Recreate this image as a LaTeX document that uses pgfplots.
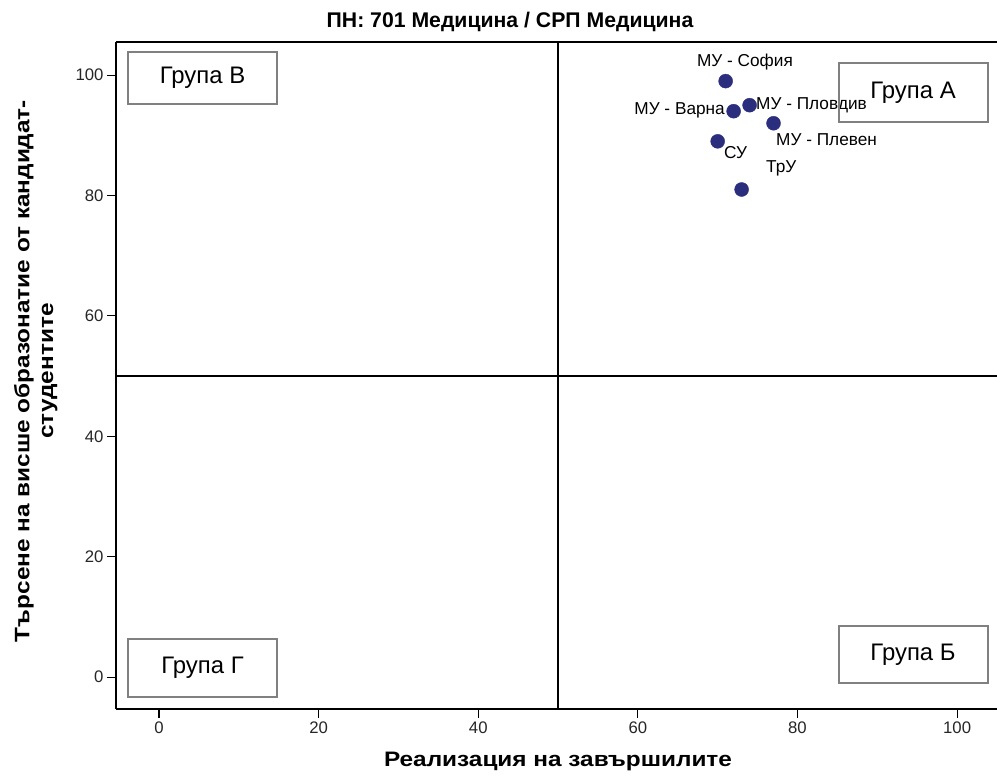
\documentclass[border=0pt]{standalone}
\usepackage{fontspec}
\setmainfont{Liberation Sans}
\usepackage{pgfplots}
\pgfplotsset{compat=1.18}
\definecolor{navy}{RGB}{43,45,125}
\definecolor{boxgray}{RGB}{128,128,128}
\begin{document}
\begin{tikzpicture}
\path[use as bounding box] (-116bp,-74bp) rectangle (881bp,709bp);
\begin{axis}[
  at={(0,0)}, anchor=south west,
  scale only axis, width=881bp, height=667bp,
  xmin=-5.39, xmax=105, ymin=-5.3, ymax=105.5,
  xtick={0,20,40,60,80,100}, ytick={0,20,40,60,80,100},
  axis y line*=left, axis x line*=box,
  xtick pos=bottom, ytick pos=left,
  tick align=outside, major tick length=9bp,
  every tick/.style={black, line width=1.1bp},
  axis line style={black, line width=1.1bp},
  /pgf/number format/assume math mode=true,
  tick label style={font=\fontsize{16.8}{19}\selectfont, text=black!85},
  clip=true,
]
\addplot[black, line width=1.8bp, forget plot] coordinates {(50,-10) (50,110)};
\addplot[black, line width=1.8bp, forget plot] coordinates {(-10,50) (110,50)};
\addplot[only marks, mark=*, mark size=7bp, mark options={fill=navy, draw=navy}] coordinates {
  (71,99) (72,94) (74,95) (77,92) (70,89) (73,81)
};
\end{axis}
% point labels
\begin{scope}[every node/.style={font=\fontsize{17.3}{20}\selectfont, inner sep=0pt}]
\node[anchor=center] at (629bp,647bp) {МУ - София};
\node[anchor=east] at (609bp,598.3bp) {МУ - Варна};
\node[anchor=west] at (640bp,604bp) {МУ - Пловдив};
\node[anchor=west] at (660bp,569bp) {МУ - Плевен};
\node[anchor=west] at (608bp,556bp) {СУ};
\node[anchor=west] at (650bp,541bp) {ТрУ};
\end{scope}
% group boxes
\begin{scope}[every node/.style={draw=boxgray, line width=2bp, minimum width=149bp, font=\fontsize{24}{28}\selectfont}]
\node[minimum height=52bp] at (86.5bp,631bp) {Група В};
\node[minimum height=59bp] at (797bp,616.5bp) {Група А};
\node[minimum height=58bp] at (86.5bp,41bp) {Група Г};
\node[minimum height=57bp] at (797bp,54.5bp) {Група Б};
\end{scope}
% title and axis labels
\node[anchor=base, font=\bfseries\fontsize{21.3}{25}\selectfont] at (394bp,681bp) {ПН: 701 Медицина / СРП Медицина};
\node[anchor=base, font=\bfseries\fontsize{21}{25}\selectfont] at (442bp,-57.7bp) {\scalebox{1.164}[1]{Реализация на завършилите}};
\node[rotate=90, inner sep=0pt, font=\bfseries\fontsize{21}{24}\selectfont] at (-79.5bp,338bp) {\scalebox{1.164}[1]{\begin{tabular}{@{}c@{}}Търсене на висше образонатие от кандидат-\\студентите\end{tabular}}};
\end{tikzpicture}
\end{document}
